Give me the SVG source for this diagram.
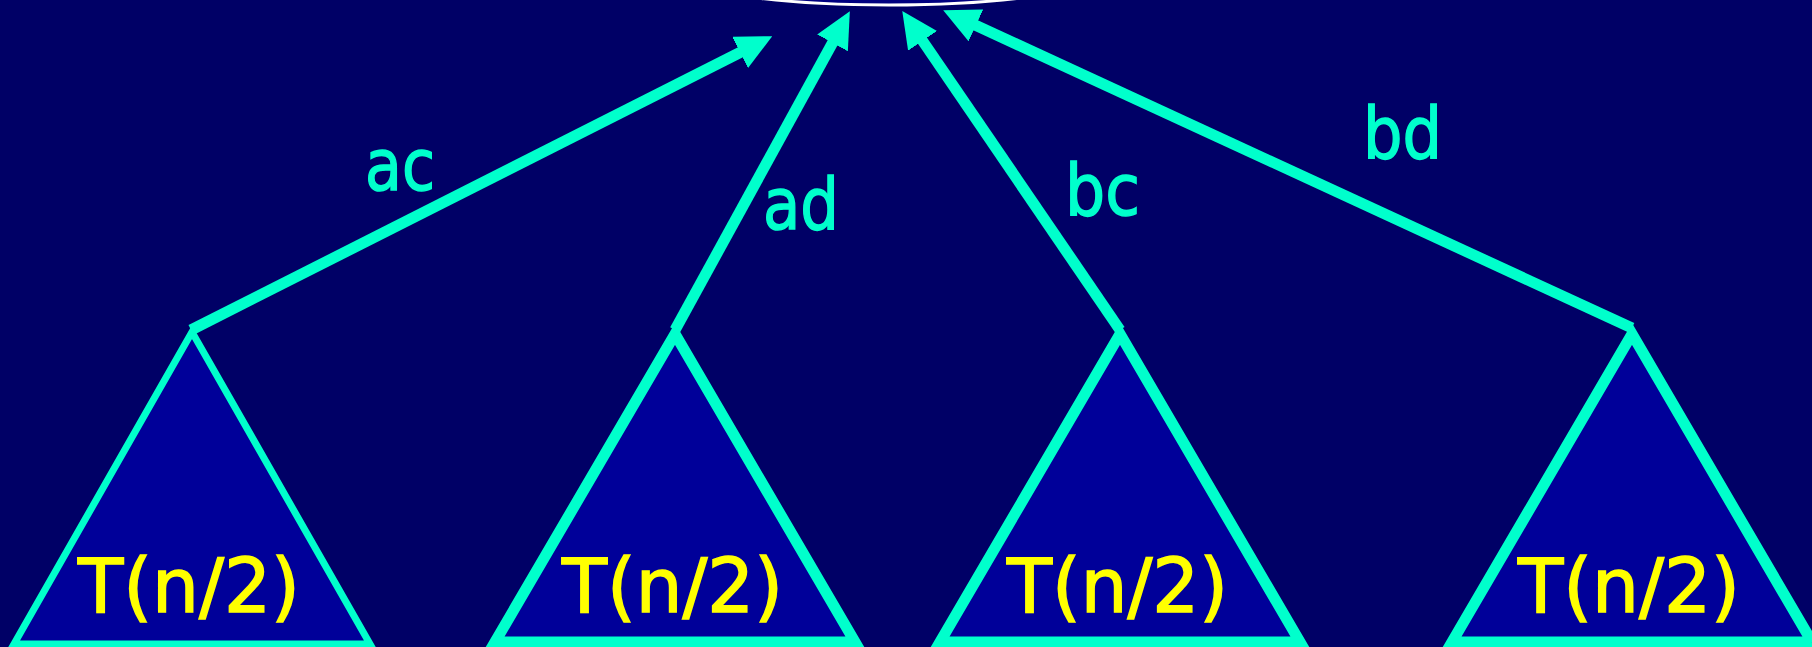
<svg xmlns="http://www.w3.org/2000/svg" width="1812" height="647" viewBox="0 0 1812 647">
<style>
.tri{fill:#000099;stroke:#00FFCC;stroke-linejoin:miter;stroke-miterlimit:10}
.edge{stroke:#00FFCC;stroke-width:11;fill:none}
.lbl{font-family:"DejaVu Sans",sans-serif;font-size:72px;fill:#00FFCC;stroke:#00FFCC;stroke-width:1.5}
.tn{font-family:"DejaVu Sans",sans-serif;font-size:74px;fill:#FFFF00;stroke:#FFFF00;stroke-width:1.5}
</style>
<defs>
<marker id="ah" markerUnits="userSpaceOnUse" viewBox="0 0 36 35" refX="1" refY="17.5" markerWidth="36" markerHeight="35" orient="auto">
<path d="M0,0 L36,17.5 L0,35 Z" fill="#00FFCC"/>
</marker>
</defs>
<rect width="1812" height="647" fill="#000066"/>
<g id="root">
<ellipse cx="889" cy="-25" rx="205" ry="30" fill="#000080" stroke="#FFFFFF" stroke-width="3"/>
</g>
<g id="t1">
<polygon class="tri" stroke-width="7" points="192,332 14,644 370,644"/>
<text class="tn" x="78" y="612" textLength="222" lengthAdjust="spacingAndGlyphs">T(n/2)</text>
</g>
<g id="t2">
<polygon class="tri" stroke-width="11" points="675,334 495,642 855,642"/>
<text class="tn" x="562" y="612" textLength="221" lengthAdjust="spacingAndGlyphs">T(n/2)</text>
</g>
<g id="t3">
<polygon class="tri" stroke-width="11" points="1120,334 940,642 1300,642"/>
<text class="tn" x="1007" y="612" textLength="221" lengthAdjust="spacingAndGlyphs">T(n/2)</text>
</g>
<g id="t4">
<polygon class="tri" stroke-width="11" points="1632,334 1452,642 1812,642"/>
<text class="tn" x="1518" y="612" textLength="222" lengthAdjust="spacingAndGlyphs">T(n/2)</text>
</g>
<g id="connectors">
<line class="edge" x1="191" y1="330" x2="741" y2="52" marker-end="url(#ah)"/>
<line class="edge" x1="675" y1="330" x2="833" y2="42" marker-end="url(#ah)"/>
<line class="edge" x1="1120" y1="330" x2="922" y2="40" marker-end="url(#ah)"/>
<line class="edge" x1="1632" y1="328" x2="975" y2="25" marker-end="url(#ah)"/>
<text class="lbl" x="365" y="190" textLength="70" lengthAdjust="spacingAndGlyphs">ac</text>
<text class="lbl" x="763" y="229" textLength="76" lengthAdjust="spacingAndGlyphs">ad</text>
<text class="lbl" x="1065" y="215" textLength="75" lengthAdjust="spacingAndGlyphs">bc</text>
<text class="lbl" x="1363" y="158" textLength="79" lengthAdjust="spacingAndGlyphs">bd</text>
</g>
</svg>
